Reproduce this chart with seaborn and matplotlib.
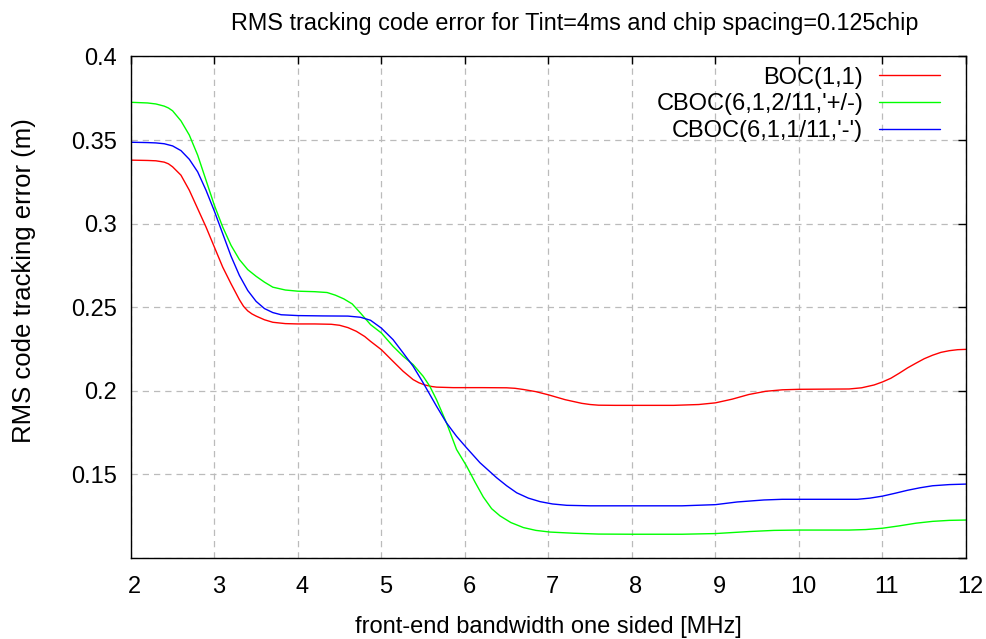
import matplotlib
matplotlib.use("Agg")
import matplotlib.pyplot as plt
import matplotlib.transforms as mtransforms
import numpy as np
import pandas as pd
import seaborn as sns

# values
boc_x = [2.0, 2.2, 2.3, 2.4, 2.45, 2.5, 2.6, 2.7, 2.8, 2.9, 3.0, 3.1, 3.2,
         3.3, 3.35, 3.4, 3.45, 3.5, 3.6, 3.7, 3.85, 4.0, 4.2, 4.4, 4.5, 4.6,
         4.7, 4.8, 4.87, 5.0, 5.14, 5.26, 5.38, 5.45, 5.52, 5.6, 5.66, 5.86,
         6.2, 6.5, 6.6, 6.7, 6.85, 7.0, 7.2, 7.4, 7.5, 7.6, 7.8, 8.0, 8.5,
         8.8, 9.0, 9.2, 9.4, 9.6, 9.8, 10.0, 10.3, 10.6, 10.75, 10.9, 11.0,
         11.1, 11.2, 11.3, 11.4, 11.5, 11.6, 11.7, 11.8, 11.9, 12.0]
boc_y = [0.3380, 0.3378, 0.3376, 0.3368, 0.3358, 0.3340, 0.3290, 0.3200,
         0.3090, 0.2980, 0.2860, 0.2740, 0.2640, 0.2545, 0.2505, 0.2478,
         0.2460, 0.2447, 0.2425, 0.2410, 0.2402, 0.2400, 0.2400, 0.2398,
         0.2392, 0.2378, 0.2356, 0.2325, 0.2296, 0.2246, 0.2176, 0.2117,
         0.2067, 0.2048, 0.2035, 0.2026, 0.2022, 0.2019, 0.2019, 0.2018,
         0.2015, 0.2008, 0.1995, 0.1976, 0.1947, 0.1925, 0.1918, 0.1914,
         0.1913, 0.1913, 0.1913, 0.1918, 0.1928, 0.1950, 0.1978, 0.1997,
         0.2006, 0.2009, 0.2010, 0.2011, 0.2018, 0.2035, 0.2053, 0.2075,
         0.2105, 0.2137, 0.2165, 0.2192, 0.2213, 0.2230, 0.2240, 0.2246,
         0.2248]

cboc_pm_x = [2.0, 2.2, 2.3, 2.4, 2.45, 2.5, 2.6, 2.7, 2.8, 2.9, 3.0, 3.1,
             3.2, 3.3, 3.4, 3.5, 3.6, 3.7, 3.85, 4.0, 4.2, 4.35, 4.45, 4.55,
             4.65, 4.75, 4.87, 5.0, 5.14, 5.26, 5.38, 5.5, 5.58, 5.66, 5.78,
             5.9, 6.02, 6.12, 6.22, 6.32, 6.42, 6.55, 6.7, 6.85, 7.02, 7.3,
             7.6, 8.0, 8.6, 9.0, 9.2, 9.4, 9.7, 10.0, 10.6, 10.8, 11.0, 11.2,
             11.4, 11.6, 11.8, 12.0]
cboc_pm_y = [0.3726, 0.3722, 0.3716, 0.3703, 0.3692, 0.3675, 0.3615, 0.3530,
             0.3410, 0.3260, 0.3110, 0.2980, 0.2870, 0.2785, 0.2725, 0.2685,
             0.2650, 0.2620, 0.2603, 0.2596, 0.2593, 0.2588, 0.2572, 0.2550,
             0.2520, 0.2465, 0.2396, 0.2346, 0.2266, 0.2207, 0.2157, 0.2087,
             0.2027, 0.1947, 0.1808, 0.1649, 0.1550, 0.1455, 0.1365, 0.1295,
             0.1252, 0.1212, 0.1182, 0.1165, 0.1155, 0.1148, 0.1143, 0.1142,
             0.1142, 0.1146, 0.1152, 0.1158, 0.1165, 0.1167, 0.1167, 0.1170,
             0.1178, 0.1192, 0.1208, 0.1219, 0.1225, 0.1227]

cboc_m_x = [2.0, 2.2, 2.3, 2.4, 2.5, 2.6, 2.7, 2.8, 2.9, 3.0, 3.1, 3.2, 3.3,
            3.4, 3.5, 3.6, 3.7, 3.8, 4.0, 4.3, 4.6, 4.75, 4.87, 5.0, 5.14,
            5.26, 5.38, 5.5, 5.66, 5.78, 5.9, 6.02, 6.18, 6.38, 6.5, 6.62,
            6.76, 6.9, 7.05, 7.22, 7.5, 8.0, 8.6, 9.0, 9.26, 9.58, 9.8, 10.7,
            10.85, 11.0, 11.15, 11.3, 11.45, 11.6, 11.8, 12.0]
cboc_m_y = [0.3487, 0.3485, 0.3483, 0.3478, 0.3465, 0.3437, 0.3385, 0.3310,
            0.3200, 0.3075, 0.2940, 0.2805, 0.2690, 0.2600, 0.2535, 0.2492,
            0.2468, 0.2455, 0.2450, 0.2448, 0.2447, 0.2440, 0.2422, 0.2375,
            0.2306, 0.2227, 0.2147, 0.2048, 0.1908, 0.1808, 0.1728, 0.1659,
            0.1570, 0.1480, 0.1432, 0.1390, 0.1358, 0.1337, 0.1323, 0.1315,
            0.1312, 0.1312, 0.1312, 0.1319, 0.1335, 0.1347, 0.1351, 0.1351,
            0.1358, 0.1370, 0.1387, 0.1405, 0.1420, 0.1432, 0.1439, 0.1442]

series_names = ["BOC(1,1)", "CBOC(6,1,2/11,'+/-)", "CBOC(6,1,1/11,'-')"]
series_colors = ["#ff0000", "#00ff00", "#0000ff"]

x_ticks = [2, 3, 4, 5, 6, 7, 8, 9, 10, 11, 12]
y_ticks = [0.1, 0.15, 0.2, 0.25, 0.3, 0.35, 0.4]
y_tick_labels = ["", "0.15", "0.2", "0.25", "0.3", "0.35", "0.4"]


def build_dataframe() -> pd.DataFrame:
    frames = []
    for name, xs, ys in zip(series_names,
                            [boc_x, cboc_pm_x, cboc_m_x],
                            [boc_y, cboc_pm_y, cboc_m_y]):
        frames.append(pd.DataFrame({"bandwidth": xs, "error": ys,
                                    "signal": name}))
    return pd.concat(frames, ignore_index=True)


def main() -> None:
    sns.set_theme(style="white")
    plt.rcParams["font.family"] = ["Liberation Sans", "DejaVu Sans"]
    plt.rcParams["font.size"] = 17
    plt.rcParams["text.color"] = "black"
    plt.rcParams["axes.labelcolor"] = "black"

    df = build_dataframe()

    fig = plt.figure(figsize=(9.86, 6.39), dpi=100)
    ax = fig.add_axes([0.1327, 0.1268, 0.8470, 0.7848])

    sns.lineplot(data=df, x="bandwidth", y="error", hue="signal",
                 hue_order=series_names, palette=series_colors,
                 estimator=None, sort=True, linewidth=1.0, ax=ax)

    ax.set_xlim(2, 12)
    ax.set_ylim(0.1, 0.4)
    ax.set_xticks(x_ticks)
    ax.set_xticklabels([str(t) for t in x_ticks])
    ax.set_yticks(y_ticks)
    ax.set_yticklabels(y_tick_labels)

    ax.grid(True, color="#bbbbbb", linestyle=(0, (5, 4)), linewidth=0.9)
    ax.tick_params(direction="in", length=6, width=1, top=True, right=True,
                   labelsize=17, colors="black")
    ax.tick_params(axis="x", pad=13)
    ax.tick_params(axis="y", pad=10)
    for spine in ax.spines.values():
        spine.set_visible(True)
        spine.set_color("black")
        spine.set_linewidth(1.0)

    shift = mtransforms.ScaledTranslation(0.04, 0, fig.dpi_scale_trans)
    for label in ax.get_xticklabels():
        label.set_transform(label.get_transform() + shift)

    ax.set_xlabel("front-end bandwidth one sided [MHz]", fontsize=17,
                  labelpad=13)
    ax.set_ylabel("RMS code tracking error (m)", fontsize=18.5)
    ax.yaxis.set_label_coords(-0.113, 0.554)

    fig.text(0.583, 0.964, "RMS tracking code error for Tint=4ms and chip "
             "spacing=0.125chip", ha="center", va="center", fontsize=16.8)

    handles, labels = ax.get_legend_handles_labels()
    ax.legend(handles, labels, loc="upper right",
              bbox_to_anchor=(0.969, 0.98), frameon=False, markerfirst=False,
              handlelength=2.6, handletextpad=0.65, labelspacing=0.2,
              borderpad=0, borderaxespad=0, fontsize=17)

    fig.savefig("out.png", dpi=100)


if __name__ == "__main__":
    main()
